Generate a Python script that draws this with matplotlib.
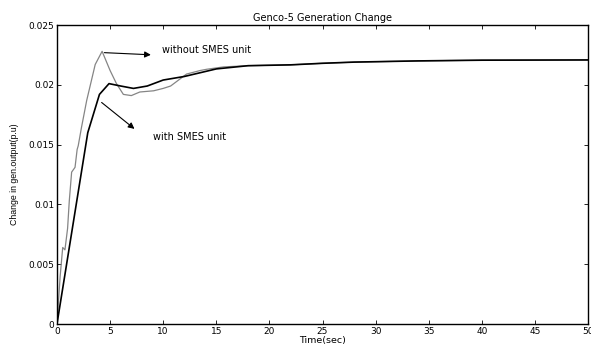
#! /usr/bin/env python3

import matplotlib
matplotlib.use('Agg')
import matplotlib.pyplot as plt

# response
t_with = [0, 2.9, 4.0, 4.9, 6.0, 7.2, 8.5, 10.0, 12.0, 15.0, 18.0, 22.0, 25.0, 28.0, 34.0, 40.0, 50.0]
y_with = [0, 0.0160, 0.0192, 0.0201, 0.0199, 0.0197, 0.0199, 0.0204, 0.0207, 0.02133, 0.0216, 0.02167,
          0.0218, 0.0219, 0.0220, 0.02206, 0.02208]

t_without = [0, 0.3, 0.54, 0.75, 1.0, 1.16, 1.38, 1.7, 1.9, 2.0, 2.3, 2.8, 3.6, 4.25, 5.0, 5.6, 6.25, 7.0,
             7.8, 9.1, 10.0, 10.7, 11.3, 12.2, 13.5, 14.1, 15.7, 18.0, 22.0, 25.0, 28.0, 34.0, 40.0, 50.0]
y_without = [0, 0.0040, 0.0064, 0.0062, 0.0080, 0.0103, 0.0127, 0.0131, 0.0146, 0.0149, 0.0164, 0.0187,
             0.0217, 0.0228, 0.0212, 0.0201, 0.0192, 0.0191, 0.0194, 0.0195, 0.0197, 0.0199, 0.0203,
             0.0209, 0.0212, 0.0213, 0.0215, 0.0216, 0.02167, 0.0218, 0.0219, 0.0220, 0.02206, 0.02208]

xticks = [0, 5, 10, 15, 20, 25, 30, 35, 40, 45, 50]
yticks = [0, 0.005, 0.01, 0.015, 0.02, 0.025]
yticklabels = ['0', '0.005', '0.01', '0.015', '0.02', '0.025']

if __name__ == "__main__":
    plt.rcParams['font.family'] = ['DejaVu Sans']

    fig = plt.figure(figsize=(5.91, 3.49), dpi=100)
    ax = fig.add_axes([0.0964, 0.0716, 0.8986, 0.8567])

    ax.plot(t_without, y_without, color='#858585', lw=0.9)
    ax.plot(t_with, y_with, color='black', lw=1.2)

    ax.set_xlim(0, 50)
    ax.set_ylim(0, 0.025)
    ax.set_xticks(xticks)
    ax.set_xticklabels([str(v) for v in xticks])
    ax.set_yticks(yticks)
    ax.set_yticklabels(yticklabels)
    ax.tick_params(direction='in', top=True, right=True, labelsize=6.5, length=3, width=0.6, pad=2)
    for s in ax.spines.values():
        s.set_linewidth(1.0)

    ax.set_title('Genco-5 Generation Change', fontsize=7, pad=3)
    ax.set_xlabel('Time(sec)', fontsize=6.8, labelpad=0)
    ax.set_ylabel('Change in gen.output(p.u)', fontsize=6.3, family='Liberation Sans', labelpad=7)

    ax.annotate('', xy=(9.1, 0.0225), xytext=(4.2, 0.0227),
                arrowprops=dict(arrowstyle='-|>', color='black', lw=0.8, mutation_scale=9))
    ax.text(9.9, 0.0229, 'without SMES unit', fontsize=7, va='center')
    ax.annotate('', xy=(7.5, 0.01617), xytext=(4.0, 0.01867),
                arrowprops=dict(arrowstyle='-|>', color='black', lw=0.8, mutation_scale=9))
    ax.text(9.0, 0.01567, 'with SMES unit', fontsize=7, va='center')

    plt.savefig('out.png', dpi=100)
